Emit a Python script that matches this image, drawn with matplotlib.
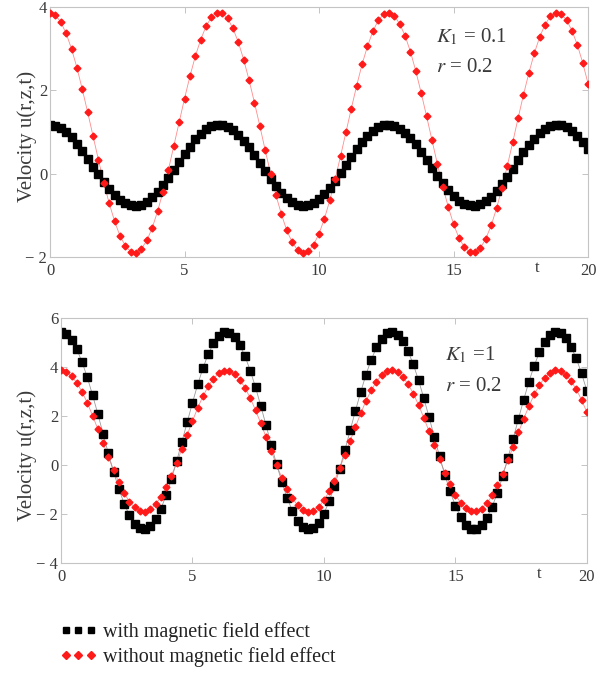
import numpy as np
import matplotlib
matplotlib.use('Agg')
import matplotlib.pyplot as plt
from matplotlib.lines import Line2D

plt.rcParams['font.family'] = ['Liberation Serif', 'DejaVu Serif']
plt.rcParams['mathtext.fontset'] = 'stix'

# time axis, 101 samples from 0 to 20
t = np.linspace(0, 20, 101)

# velocity without magnetic field (same in both panels)
u_without = [
    3.86, 3.80, 3.63, 3.36, 2.99, 2.54, 2.02, 1.47, 0.90, 0.33,
    -0.22, -0.71, -1.14, -1.49, -1.73, -1.87, -1.90, -1.80, -1.60, -1.30,
    -0.90, -0.43, 0.09, 0.66, 1.23, 1.80, 2.33, 2.81, 3.21, 3.53,
    3.75, 3.85, 3.84, 3.72, 3.48, 3.15, 2.73, 2.24, 1.70, 1.14,
    0.56, 0.00, -0.52, -0.97, -1.36, -1.64, -1.83, -1.90, -1.86, -1.70,
    -1.44, -1.08, -0.64, -0.13, 0.42, 0.99, 1.56, 2.11, 2.62, 3.05,
    3.41, 3.67, 3.82, 3.86, 3.78, 3.59, 3.30, 2.92, 2.45, 1.93,
    1.37, 0.80, 0.23, -0.31, -0.79, -1.21, -1.54, -1.76, -1.88, -1.89,
    -1.78, -1.56, -1.24, -0.83, -0.35, 0.19, 0.75, 1.33, 1.89, 2.41,
    2.88, 3.27, 3.57, 3.77, 3.86, 3.83, 3.68, 3.43, 3.09, 2.66,
    2.16]

# velocity with magnetic field, K1 = 0.1
u_with_k01 = [
    1.17, 1.15, 1.09, 1.00, 0.88, 0.72, 0.55, 0.36, 0.17, -0.02,
    -0.20, -0.37, -0.52, -0.63, -0.71, -0.76, -0.77, -0.74, -0.67, -0.57,
    -0.43, -0.28, -0.10, 0.09, 0.28, 0.48, 0.65, 0.82, 0.95, 1.06,
    1.13, 1.17, 1.16, 1.12, 1.04, 0.93, 0.79, 0.63, 0.44, 0.25,
    0.06, -0.13, -0.30, -0.46, -0.59, -0.68, -0.75, -0.77, -0.76, -0.70,
    -0.61, -0.49, -0.34, -0.17, 0.01, 0.20, 0.40, 0.58, 0.75, 0.90,
    1.02, 1.11, 1.16, 1.17, 1.14, 1.08, 0.98, 0.85, 0.70, 0.52,
    0.33, 0.14, -0.05, -0.23, -0.40, -0.54, -0.65, -0.72, -0.76, -0.77,
    -0.73, -0.65, -0.55, -0.41, -0.25, -0.07, 0.12, 0.32, 0.51, 0.68,
    0.84, 0.97, 1.07, 1.14, 1.17, 1.16, 1.11, 1.03, 0.91, 0.76,
    0.60]

# velocity with magnetic field, K1 = 1
u_with_k1 = [
    5.43, 5.35, 5.11, 4.73, 4.21, 3.58, 2.86, 2.09, 1.28, 0.48,
    -0.28, -0.97, -1.57, -2.05, -2.40, -2.59, -2.62, -2.50, -2.21, -1.79,
    -1.23, -0.58, 0.16, 0.95, 1.75, 2.54, 3.29, 3.96, 4.53, 4.97,
    5.27, 5.42, 5.40, 5.23, 4.90, 4.44, 3.85, 3.17, 2.41, 1.62,
    0.81, 0.03, -0.69, -1.34, -1.87, -2.27, -2.53, -2.63, -2.57, -2.35,
    -1.98, -1.48, -0.86, -0.15, 0.62, 1.42, 2.22, 2.98, 3.69, 4.30,
    4.80, 5.16, 5.37, 5.43, 5.32, 5.06, 4.65, 4.11, 3.46, 2.73,
    1.95, 1.15, 0.35, -0.40, -1.08, -1.66, -2.12, -2.44, -2.61, -2.61,
    -2.46, -2.15, -1.70, -1.13, -0.46, 0.29, 1.08, 1.89, 2.67, 3.41,
    4.06, 4.61, 5.03, 5.31, 5.42, 5.38, 5.18, 4.83, 4.35, 3.74,
    3.04]

xticks = [0, 5, 10, 15, 20]
yticks_top = [-2, 0, 2, 4]
ylabels_top = ['\u2212 2', '0', '2', '4']
yticks_bot = [-4, -2, 0, 2, 4, 6]
ylabels_bot = ['\u2212 4', '\u2212 2', '0', '2', '4', '6']

frame_col = '#c4c4c4'
text_col = '#3a3a3a'
red = '#ff1a1a'


def style_axes(ax, yticks, ylabels, ylim, label_x, label_y):
    ax.set_xlim(0, 20)
    ax.set_ylim(*ylim)
    ax.set_xticks(xticks)
    ax.set_xticklabels([str(v) for v in xticks])
    ax.set_yticks(yticks)
    ax.set_yticklabels(ylabels)
    for s in ax.spines.values():
        s.set_color(frame_col)
        s.set_linewidth(0.8)
    ax.tick_params(direction='in', length=4, width=0.7, color=frame_col,
                   top=True, right=True, labelsize=12, labelcolor=text_col)
    ax.tick_params(axis='y', pad=2)
    ax.tick_params(axis='x', pad=4)
    ax.set_ylabel('Velocity u(r,z,t)', fontsize=15, color=text_col)
    ax.yaxis.set_label_coords(label_x, label_y)


def draw(ax, u_with, sq):
    ax.plot(t, u_without, color='#ff8c8c', lw=0.6, zorder=1)
    ax.plot(t, u_with, color='#9a9a9a', lw=0.6, zorder=1)
    ax.plot(t, u_with, ls='none', marker='s', ms=sq, color='black',
            mec='black', zorder=2)
    ax.plot(t, u_without, ls='none', marker='D', ms=3.5, color=red,
            mec=red, zorder=3)


fig = plt.figure(figsize=(6.10, 6.73), dpi=100)

ax1 = fig.add_axes([0.082, 0.618, 0.882, 0.372])
draw(ax1, u_with_k01, 5.6)
style_axes(ax1, yticks_top, ylabels_top, (-2, 4), -0.024, 0.48)
ax1.text(0.717, 0.88, r'$K_1$ = 0.1', transform=ax1.transAxes,
         fontsize=15, color=text_col, va='center')
ax1.text(0.717, 0.756, r'$r$ = 0.2', transform=ax1.transAxes,
         fontsize=15, color=text_col, va='center')
ax1.text(0.905, -0.01, 't', transform=ax1.transAxes, fontsize=12,
         color=text_col, ha='center', va='top')

ax2 = fig.add_axes([0.100, 0.1634, 0.862, 0.364])
draw(ax2, u_with_k1, 5.2)
style_axes(ax2, yticks_bot, ylabels_bot, (-4, 6), -0.045, 0.44)
ax2.text(0.73, 0.849, r'$K_1$ =1', transform=ax2.transAxes,
         fontsize=15, color=text_col, va='center')
ax2.text(0.73, 0.722, r'$r$ = 0.2', transform=ax2.transAxes,
         fontsize=15, color=text_col, va='center')
ax2.text(0.91, -0.012, 't', transform=ax2.transAxes, fontsize=12,
         color=text_col, ha='center', va='top')

handles = [
    Line2D([], [], ls='none', marker='s', ms=5.0, color='black'),
    Line2D([], [], ls='none', marker='D', ms=3.6, color=red),
]
fig.legend(handles, ['with magnetic field effect',
                     'without magnetic field effect'],
           loc='upper left', bbox_to_anchor=(0.098, 0.075), frameon=False,
           borderpad=0, borderaxespad=0,
           numpoints=3, handlelength=1.84, handletextpad=0.3,
           labelspacing=0.25, fontsize=14.5, labelcolor='#222222')

plt.savefig('out.png', dpi=100)
